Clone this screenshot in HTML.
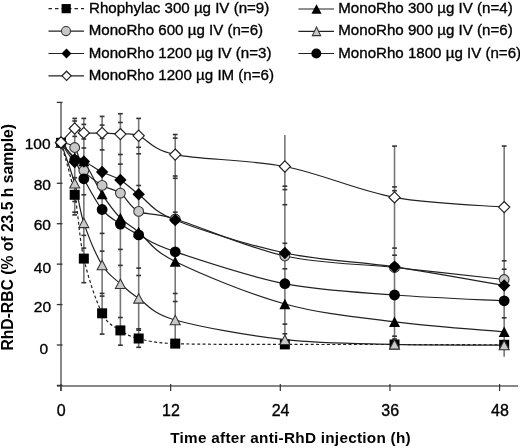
<!DOCTYPE html>
<html><head><meta charset="utf-8"><style>
html,body{margin:0;padding:0;background:#fff;width:520px;height:448px;overflow:hidden}
svg{display:block;will-change:transform;font-family:"Liberation Sans",sans-serif}
</style></head><body>
<svg width="520" height="448" viewBox="0 0 520 448">
<line x1="61" y1="102" x2="61" y2="391" stroke="#888" stroke-width="2"/>
<line x1="57" y1="386" x2="518" y2="386" stroke="#888" stroke-width="2"/>
<line x1="56.8" y1="385.43" x2="62.5" y2="385.43" stroke="#333" stroke-width="1.3"/>
<line x1="56.8" y1="345.00" x2="62.5" y2="345.00" stroke="#333" stroke-width="1.3"/>
<line x1="56.8" y1="304.57" x2="62.5" y2="304.57" stroke="#333" stroke-width="1.3"/>
<line x1="56.8" y1="264.13" x2="62.5" y2="264.13" stroke="#333" stroke-width="1.3"/>
<line x1="56.8" y1="223.70" x2="62.5" y2="223.70" stroke="#333" stroke-width="1.3"/>
<line x1="56.8" y1="183.26" x2="62.5" y2="183.26" stroke="#333" stroke-width="1.3"/>
<line x1="56.8" y1="142.83" x2="62.5" y2="142.83" stroke="#333" stroke-width="1.3"/>
<line x1="56.8" y1="102.40" x2="62.5" y2="102.40" stroke="#333" stroke-width="1.3"/>
<line x1="61.00" y1="384" x2="61.00" y2="391" stroke="#333" stroke-width="1.2"/>
<line x1="170.65" y1="384" x2="170.65" y2="391" stroke="#333" stroke-width="1.2"/>
<line x1="280.30" y1="384" x2="280.30" y2="391" stroke="#333" stroke-width="1.2"/>
<line x1="389.95" y1="384" x2="389.95" y2="391" stroke="#333" stroke-width="1.2"/>
<line x1="499.60" y1="384" x2="499.60" y2="391" stroke="#333" stroke-width="1.2"/>
<text x="50.6" y="148.50" text-anchor="end" font-size="15.5" stroke="#000" stroke-width="0.35">100</text>
<text x="50.9" y="189.60" text-anchor="end" font-size="15.5" stroke="#000" stroke-width="0.35">80</text>
<text x="50.9" y="229.50" text-anchor="end" font-size="15.5" stroke="#000" stroke-width="0.35">60</text>
<text x="51.1" y="272.60" text-anchor="end" font-size="15.5" stroke="#000" stroke-width="0.35">40</text>
<text x="51.1" y="312.30" text-anchor="end" font-size="15.5" stroke="#000" stroke-width="0.35">20</text>
<text x="48.2" y="353.60" text-anchor="end" font-size="15.5" stroke="#000" stroke-width="0.35">0</text>
<text x="61.30" y="415.8" text-anchor="middle" font-size="16" stroke="#000" stroke-width="0.35">0</text>
<text x="170.95" y="415.8" text-anchor="middle" font-size="16" stroke="#000" stroke-width="0.35">12</text>
<text x="280.60" y="415.8" text-anchor="middle" font-size="16" stroke="#000" stroke-width="0.35">24</text>
<text x="390.25" y="415.8" text-anchor="middle" font-size="16" stroke="#000" stroke-width="0.35">36</text>
<text x="499.90" y="415.8" text-anchor="middle" font-size="16" stroke="#000" stroke-width="0.35">48</text>
<text x="290.6" y="443" text-anchor="middle" font-size="15.3" letter-spacing="0.27" font-weight="bold">Time after anti-RhD injection (h)</text>
<text transform="translate(13.4,237.3) rotate(-90)" text-anchor="middle" font-size="15.7" font-weight="bold">RhD-RBC (% of 23.5 h sample)</text>
<line x1="74.71" y1="118.4" x2="74.71" y2="215.0" stroke="#777" stroke-width="1.6"/>
<line x1="72.31" y1="118.4" x2="77.11" y2="118.4" stroke="#333" stroke-width="1.6"/>
<line x1="72.31" y1="121" x2="77.11" y2="121" stroke="#333" stroke-width="1.6"/>
<line x1="72.31" y1="136.4" x2="77.11" y2="136.4" stroke="#333" stroke-width="1.6"/>
<line x1="72.31" y1="177.7" x2="77.11" y2="177.7" stroke="#333" stroke-width="1.6"/>
<line x1="72.31" y1="201.5" x2="77.11" y2="201.5" stroke="#333" stroke-width="1.6"/>
<line x1="72.31" y1="212.2" x2="77.11" y2="212.2" stroke="#333" stroke-width="1.6"/>
<line x1="72.31" y1="214.9" x2="77.11" y2="214.9" stroke="#333" stroke-width="1.6"/>
<line x1="83.84" y1="118.4" x2="83.84" y2="282.7" stroke="#777" stroke-width="1.6"/>
<line x1="81.44" y1="118.4" x2="86.24" y2="118.4" stroke="#333" stroke-width="1.6"/>
<line x1="81.44" y1="124.4" x2="86.24" y2="124.4" stroke="#333" stroke-width="1.6"/>
<line x1="81.44" y1="139" x2="86.24" y2="139" stroke="#333" stroke-width="1.6"/>
<line x1="81.44" y1="148" x2="86.24" y2="148" stroke="#333" stroke-width="1.6"/>
<line x1="81.44" y1="194.8" x2="86.24" y2="194.8" stroke="#333" stroke-width="1.6"/>
<line x1="81.44" y1="235.4" x2="86.24" y2="235.4" stroke="#333" stroke-width="1.6"/>
<line x1="81.44" y1="248.1" x2="86.24" y2="248.1" stroke="#333" stroke-width="1.6"/>
<line x1="81.44" y1="282.7" x2="86.24" y2="282.7" stroke="#333" stroke-width="1.6"/>
<line x1="102.12" y1="116.4" x2="102.12" y2="334.1" stroke="#777" stroke-width="1.6"/>
<line x1="99.72" y1="116.4" x2="104.52" y2="116.4" stroke="#333" stroke-width="1.6"/>
<line x1="99.72" y1="125.1" x2="104.52" y2="125.1" stroke="#333" stroke-width="1.6"/>
<line x1="99.72" y1="138.5" x2="104.52" y2="138.5" stroke="#333" stroke-width="1.6"/>
<line x1="99.72" y1="149.9" x2="104.52" y2="149.9" stroke="#333" stroke-width="1.6"/>
<line x1="99.72" y1="233.4" x2="104.52" y2="233.4" stroke="#333" stroke-width="1.6"/>
<line x1="99.72" y1="251.1" x2="104.52" y2="251.1" stroke="#333" stroke-width="1.6"/>
<line x1="99.72" y1="293.4" x2="104.52" y2="293.4" stroke="#333" stroke-width="1.6"/>
<line x1="99.72" y1="296.1" x2="104.52" y2="296.1" stroke="#333" stroke-width="1.6"/>
<line x1="99.72" y1="334.1" x2="104.52" y2="334.1" stroke="#333" stroke-width="1.6"/>
<line x1="120.39" y1="113.7" x2="120.39" y2="345.2" stroke="#777" stroke-width="1.6"/>
<line x1="117.99" y1="113.7" x2="122.79" y2="113.7" stroke="#333" stroke-width="1.6"/>
<line x1="117.99" y1="122.5" x2="122.79" y2="122.5" stroke="#333" stroke-width="1.6"/>
<line x1="117.99" y1="154.5" x2="122.79" y2="154.5" stroke="#333" stroke-width="1.6"/>
<line x1="117.99" y1="164.1" x2="122.79" y2="164.1" stroke="#333" stroke-width="1.6"/>
<line x1="117.99" y1="249.4" x2="122.79" y2="249.4" stroke="#333" stroke-width="1.6"/>
<line x1="117.99" y1="265.4" x2="122.79" y2="265.4" stroke="#333" stroke-width="1.6"/>
<line x1="117.99" y1="317.5" x2="122.79" y2="317.5" stroke="#333" stroke-width="1.6"/>
<line x1="117.99" y1="345.2" x2="122.79" y2="345.2" stroke="#333" stroke-width="1.6"/>
<line x1="138.67" y1="118.4" x2="138.67" y2="347.3" stroke="#777" stroke-width="1.6"/>
<line x1="136.27" y1="118.4" x2="141.07" y2="118.4" stroke="#333" stroke-width="1.6"/>
<line x1="136.27" y1="147.3" x2="141.07" y2="147.3" stroke="#333" stroke-width="1.6"/>
<line x1="136.27" y1="153.8" x2="141.07" y2="153.8" stroke="#333" stroke-width="1.6"/>
<line x1="136.27" y1="185.5" x2="141.07" y2="185.5" stroke="#333" stroke-width="1.6"/>
<line x1="136.27" y1="268.1" x2="141.07" y2="268.1" stroke="#333" stroke-width="1.6"/>
<line x1="136.27" y1="275.5" x2="141.07" y2="275.5" stroke="#333" stroke-width="1.6"/>
<line x1="136.27" y1="328.8" x2="141.07" y2="328.8" stroke="#333" stroke-width="1.6"/>
<line x1="136.27" y1="330.2" x2="141.07" y2="330.2" stroke="#333" stroke-width="1.6"/>
<line x1="136.27" y1="347.3" x2="141.07" y2="347.3" stroke="#333" stroke-width="1.6"/>
<line x1="175.22" y1="134.5" x2="175.22" y2="345.0" stroke="#777" stroke-width="1.6"/>
<line x1="172.82" y1="134.5" x2="177.62" y2="134.5" stroke="#333" stroke-width="1.6"/>
<line x1="172.82" y1="138.1" x2="177.62" y2="138.1" stroke="#333" stroke-width="1.6"/>
<line x1="172.82" y1="176" x2="177.62" y2="176" stroke="#333" stroke-width="1.6"/>
<line x1="172.82" y1="178.3" x2="177.62" y2="178.3" stroke="#333" stroke-width="1.6"/>
<line x1="172.82" y1="212.2" x2="177.62" y2="212.2" stroke="#333" stroke-width="1.6"/>
<line x1="172.82" y1="293.5" x2="177.62" y2="293.5" stroke="#333" stroke-width="1.6"/>
<line x1="172.82" y1="301.5" x2="177.62" y2="301.5" stroke="#333" stroke-width="1.6"/>
<line x1="284.87" y1="135.1" x2="284.87" y2="340.0" stroke="#777" stroke-width="1.6"/>
<line x1="282.47" y1="186.2" x2="287.27" y2="186.2" stroke="#333" stroke-width="1.6"/>
<line x1="282.47" y1="189.6" x2="287.27" y2="189.6" stroke="#333" stroke-width="1.6"/>
<line x1="282.47" y1="204.7" x2="287.27" y2="204.7" stroke="#333" stroke-width="1.6"/>
<line x1="282.47" y1="243.3" x2="287.27" y2="243.3" stroke="#333" stroke-width="1.6"/>
<line x1="282.47" y1="268.8" x2="287.27" y2="268.8" stroke="#333" stroke-width="1.6"/>
<line x1="282.47" y1="324.1" x2="287.27" y2="324.1" stroke="#333" stroke-width="1.6"/>
<line x1="282.47" y1="333.8" x2="287.27" y2="333.8" stroke="#333" stroke-width="1.6"/>
<line x1="394.52" y1="146.1" x2="394.52" y2="340.0" stroke="#777" stroke-width="1.6"/>
<line x1="392.12" y1="146.1" x2="396.92" y2="146.1" stroke="#333" stroke-width="1.6"/>
<line x1="392.12" y1="186.9" x2="396.92" y2="186.9" stroke="#333" stroke-width="1.6"/>
<line x1="392.12" y1="190.7" x2="396.92" y2="190.7" stroke="#333" stroke-width="1.6"/>
<line x1="392.12" y1="248.1" x2="396.92" y2="248.1" stroke="#333" stroke-width="1.6"/>
<line x1="392.12" y1="255.2" x2="396.92" y2="255.2" stroke="#333" stroke-width="1.6"/>
<line x1="392.12" y1="336.2" x2="396.92" y2="336.2" stroke="#333" stroke-width="1.6"/>
<line x1="392.12" y1="339" x2="396.92" y2="339" stroke="#333" stroke-width="1.6"/>
<line x1="504.17" y1="146.0" x2="504.17" y2="356.8" stroke="#777" stroke-width="1.6"/>
<line x1="501.77" y1="146" x2="506.57" y2="146" stroke="#333" stroke-width="1.6"/>
<line x1="501.77" y1="260.8" x2="506.57" y2="260.8" stroke="#333" stroke-width="1.6"/>
<line x1="501.77" y1="269.2" x2="506.57" y2="269.2" stroke="#333" stroke-width="1.6"/>
<line x1="501.77" y1="317.8" x2="506.57" y2="317.8" stroke="#333" stroke-width="1.6"/>
<path d="M61.00,142.80 C63.28,151.47 70.90,175.50 74.71,194.80 C78.51,214.10 79.28,238.85 83.84,258.60 C88.41,278.35 96.03,301.33 102.12,313.30 C108.21,325.27 114.30,326.20 120.39,330.40 C126.49,334.60 129.53,336.30 138.67,338.50 C147.81,340.70 150.85,342.62 175.22,343.60 C199.59,344.58 248.32,344.25 284.87,344.40 C321.42,344.55 357.97,344.43 394.52,344.50 C431.07,344.57 485.89,344.75 504.17,344.80" fill="none" stroke="#222" stroke-width="1.2" stroke-dasharray="3,2.4"/>
<path d="M61.00,142.80 C63.28,145.25 70.90,154.47 74.71,157.50 C78.51,160.53 79.28,154.90 83.84,161.00 C88.41,167.10 96.03,184.60 102.12,194.10 C108.21,203.60 114.30,211.68 120.39,218.00 C126.49,224.32 129.53,224.75 138.67,232.00 C147.81,239.25 150.85,249.50 175.22,261.50 C199.59,273.50 248.32,293.95 284.87,304.00 C321.42,314.05 357.97,317.17 394.52,321.80 C431.07,326.43 485.89,330.13 504.17,331.80" fill="none" stroke="#222" stroke-width="1.2"/>
<path d="M61.00,142.80 C63.28,143.58 70.90,142.88 74.71,147.50 C78.51,152.12 79.28,164.18 83.84,170.50 C88.41,176.82 96.03,181.63 102.12,185.40 C108.21,189.17 114.30,188.77 120.39,193.10 C126.49,197.43 129.53,207.08 138.67,211.40 C147.81,215.72 150.85,211.57 175.22,219.00 C199.59,226.43 248.32,247.92 284.87,256.00 C321.42,264.08 357.97,263.58 394.52,267.50 C431.07,271.42 485.89,277.50 504.17,279.50" fill="none" stroke="#222" stroke-width="1.2"/>
<path d="M61.00,142.80 C63.28,149.55 70.90,169.95 74.71,183.30 C78.51,196.65 79.28,209.28 83.84,222.90 C88.41,236.52 96.03,254.87 102.12,265.00 C108.21,275.13 114.30,278.13 120.39,283.70 C126.49,289.27 129.53,292.35 138.67,298.40 C147.81,304.45 150.85,313.12 175.22,320.00 C199.59,326.88 248.32,335.63 284.87,339.70 C321.42,343.77 357.97,343.50 394.52,344.40 C431.07,345.30 485.89,344.98 504.17,345.10" fill="none" stroke="#222" stroke-width="1.2"/>
<path d="M61.00,142.80 C63.28,146.00 70.90,158.88 74.71,162.00 C78.51,165.12 79.28,159.83 83.84,161.50 C88.41,163.17 96.03,168.93 102.12,172.00 C108.21,175.07 114.30,176.20 120.39,179.90 C126.49,183.60 129.53,187.52 138.67,194.20 C147.81,200.88 150.85,210.20 175.22,220.00 C199.59,229.80 248.32,245.20 284.87,253.00 C321.42,260.80 357.97,261.38 394.52,266.80 C431.07,272.22 485.89,282.38 504.17,285.50" fill="none" stroke="#222" stroke-width="1.2"/>
<path d="M61.00,142.80 C63.28,145.67 70.90,154.00 74.71,160.00 C78.51,166.00 79.28,170.55 83.84,178.80 C88.41,187.05 96.03,201.95 102.12,209.50 C108.21,217.05 114.30,219.87 120.39,224.10 C126.49,228.33 129.53,230.28 138.67,234.90 C147.81,239.52 150.85,243.67 175.22,251.80 C199.59,259.93 248.32,276.50 284.87,283.70 C321.42,290.90 357.97,292.15 394.52,295.00 C431.07,297.85 485.89,299.83 504.17,300.80" fill="none" stroke="#222" stroke-width="1.2"/>
<path d="M61.00,142.50 C63.28,140.17 70.90,130.10 74.71,128.50 C78.51,126.90 79.28,132.17 83.84,132.90 C88.41,133.63 96.03,132.70 102.12,132.90 C108.21,133.10 114.30,133.62 120.39,134.10 C126.49,134.58 129.53,132.38 138.67,135.80 C147.81,139.22 150.85,149.48 175.22,154.60 C199.59,159.72 248.32,159.37 284.87,166.50 C321.42,173.63 357.97,190.63 394.52,197.40 C431.07,204.17 485.89,205.48 504.17,207.10" fill="none" stroke="#222" stroke-width="1.2"/>
<rect x="56.00" y="137.80" width="10.0" height="10.0" fill="#000"/>
<rect x="69.71" y="189.80" width="10.0" height="10.0" fill="#000"/>
<rect x="78.84" y="253.60" width="10.0" height="10.0" fill="#000"/>
<rect x="97.12" y="308.30" width="10.0" height="10.0" fill="#000"/>
<rect x="115.39" y="325.40" width="10.0" height="10.0" fill="#000"/>
<rect x="133.67" y="333.50" width="10.0" height="10.0" fill="#000"/>
<rect x="170.22" y="338.60" width="10.0" height="10.0" fill="#000"/>
<rect x="279.87" y="339.40" width="10.0" height="10.0" fill="#000"/>
<rect x="389.52" y="339.50" width="10.0" height="10.0" fill="#000"/>
<rect x="499.17" y="339.80" width="10.0" height="10.0" fill="#000"/>
<polygon points="61.00,137.60 66.50,148.00 55.50,148.00" fill="#000"/>
<polygon points="74.71,152.30 80.21,162.70 69.21,162.70" fill="#000"/>
<polygon points="83.84,155.80 89.34,166.20 78.34,166.20" fill="#000"/>
<polygon points="102.12,188.90 107.62,199.30 96.62,199.30" fill="#000"/>
<polygon points="120.39,212.80 125.89,223.20 114.89,223.20" fill="#000"/>
<polygon points="138.67,226.80 144.17,237.20 133.17,237.20" fill="#000"/>
<polygon points="175.22,256.30 180.72,266.70 169.72,266.70" fill="#000"/>
<polygon points="284.87,298.80 290.37,309.20 279.37,309.20" fill="#000"/>
<polygon points="394.52,316.60 400.02,327.00 389.02,327.00" fill="#000"/>
<polygon points="504.17,326.60 509.67,337.00 498.67,337.00" fill="#000"/>
<circle cx="61.00" cy="142.80" r="4.90" fill="#c8c8c8" stroke="#333" stroke-width="1.05"/>
<circle cx="74.71" cy="147.50" r="4.90" fill="#c8c8c8" stroke="#333" stroke-width="1.05"/>
<circle cx="83.84" cy="170.50" r="4.90" fill="#c8c8c8" stroke="#333" stroke-width="1.05"/>
<circle cx="102.12" cy="185.40" r="4.90" fill="#c8c8c8" stroke="#333" stroke-width="1.05"/>
<circle cx="120.39" cy="193.10" r="4.90" fill="#c8c8c8" stroke="#333" stroke-width="1.05"/>
<circle cx="138.67" cy="211.40" r="4.90" fill="#c8c8c8" stroke="#333" stroke-width="1.05"/>
<circle cx="175.22" cy="219.00" r="4.90" fill="#c8c8c8" stroke="#333" stroke-width="1.05"/>
<circle cx="284.87" cy="256.00" r="4.90" fill="#c8c8c8" stroke="#333" stroke-width="1.05"/>
<circle cx="394.52" cy="267.50" r="4.90" fill="#c8c8c8" stroke="#333" stroke-width="1.05"/>
<circle cx="504.17" cy="279.50" r="4.90" fill="#c8c8c8" stroke="#333" stroke-width="1.05"/>
<polygon points="61.00,138.10 66.00,147.50 56.00,147.50" fill="#c8c8c8" stroke="#333" stroke-width="1.05"/>
<polygon points="74.71,178.60 79.71,188.00 69.71,188.00" fill="#c8c8c8" stroke="#333" stroke-width="1.05"/>
<polygon points="83.84,218.20 88.84,227.60 78.84,227.60" fill="#c8c8c8" stroke="#333" stroke-width="1.05"/>
<polygon points="102.12,260.30 107.12,269.70 97.12,269.70" fill="#c8c8c8" stroke="#333" stroke-width="1.05"/>
<polygon points="120.39,279.00 125.39,288.40 115.39,288.40" fill="#c8c8c8" stroke="#333" stroke-width="1.05"/>
<polygon points="138.67,293.70 143.67,303.10 133.67,303.10" fill="#c8c8c8" stroke="#333" stroke-width="1.05"/>
<polygon points="175.22,315.30 180.22,324.70 170.22,324.70" fill="#c8c8c8" stroke="#333" stroke-width="1.05"/>
<polygon points="284.87,335.00 289.87,344.40 279.87,344.40" fill="#c8c8c8" stroke="#333" stroke-width="1.05"/>
<polygon points="394.52,339.70 399.52,349.10 389.52,349.10" fill="#c8c8c8" stroke="#333" stroke-width="1.05"/>
<polygon points="504.17,340.40 509.17,349.80 499.17,349.80" fill="#c8c8c8" stroke="#333" stroke-width="1.05"/>
<polygon points="61.00,136.60 67.20,142.80 61.00,149.00 54.80,142.80" fill="#000"/>
<polygon points="74.71,155.80 80.91,162.00 74.71,168.20 68.51,162.00" fill="#000"/>
<polygon points="83.84,155.30 90.04,161.50 83.84,167.70 77.64,161.50" fill="#000"/>
<polygon points="102.12,165.80 108.32,172.00 102.12,178.20 95.92,172.00" fill="#000"/>
<polygon points="120.39,173.70 126.59,179.90 120.39,186.10 114.19,179.90" fill="#000"/>
<polygon points="138.67,188.00 144.87,194.20 138.67,200.40 132.47,194.20" fill="#000"/>
<polygon points="175.22,213.80 181.42,220.00 175.22,226.20 169.02,220.00" fill="#000"/>
<polygon points="284.87,246.80 291.07,253.00 284.87,259.20 278.67,253.00" fill="#000"/>
<polygon points="394.52,260.60 400.72,266.80 394.52,273.00 388.32,266.80" fill="#000"/>
<polygon points="504.17,279.30 510.37,285.50 504.17,291.70 497.97,285.50" fill="#000"/>
<circle cx="61.00" cy="142.80" r="5.40" fill="#000"/>
<circle cx="74.71" cy="160.00" r="5.40" fill="#000"/>
<circle cx="83.84" cy="178.80" r="5.40" fill="#000"/>
<circle cx="102.12" cy="209.50" r="5.40" fill="#000"/>
<circle cx="120.39" cy="224.10" r="5.40" fill="#000"/>
<circle cx="138.67" cy="234.90" r="5.40" fill="#000"/>
<circle cx="175.22" cy="251.80" r="5.40" fill="#000"/>
<circle cx="284.87" cy="283.70" r="5.40" fill="#000"/>
<circle cx="394.52" cy="295.00" r="5.40" fill="#000"/>
<circle cx="504.17" cy="300.80" r="5.40" fill="#000"/>
<polygon points="61.00,136.90 66.60,142.50 61.00,148.10 55.40,142.50" fill="#fff" stroke="#222" stroke-width="1.2"/>
<polygon points="74.71,122.90 80.31,128.50 74.71,134.10 69.11,128.50" fill="#fff" stroke="#222" stroke-width="1.2"/>
<polygon points="83.84,127.30 89.44,132.90 83.84,138.50 78.24,132.90" fill="#fff" stroke="#222" stroke-width="1.2"/>
<polygon points="102.12,127.30 107.72,132.90 102.12,138.50 96.52,132.90" fill="#fff" stroke="#222" stroke-width="1.2"/>
<polygon points="120.39,128.50 125.99,134.10 120.39,139.70 114.79,134.10" fill="#fff" stroke="#222" stroke-width="1.2"/>
<polygon points="138.67,130.20 144.27,135.80 138.67,141.40 133.07,135.80" fill="#fff" stroke="#222" stroke-width="1.2"/>
<polygon points="175.22,149.00 180.82,154.60 175.22,160.20 169.62,154.60" fill="#fff" stroke="#222" stroke-width="1.2"/>
<polygon points="284.87,160.90 290.47,166.50 284.87,172.10 279.27,166.50" fill="#fff" stroke="#222" stroke-width="1.2"/>
<polygon points="394.52,191.80 400.12,197.40 394.52,203.00 388.92,197.40" fill="#fff" stroke="#222" stroke-width="1.2"/>
<polygon points="504.17,201.50 509.77,207.10 504.17,212.70 498.57,207.10" fill="#fff" stroke="#222" stroke-width="1.2"/>
<line x1="48.5" y1="8.65" x2="84" y2="8.65" stroke="#222" stroke-width="1.2" stroke-dasharray="3.5,3"/>
<rect x="61.60" y="4.05" width="9.200000000000001" height="9.200000000000001" fill="#000"/>
<text x="89.0" y="12.9" font-size="15.1" stroke="#000" stroke-width="0.35">Rhophylac 300 µg IV (n=9)</text>
<line x1="48.5" y1="31.1" x2="84" y2="31.1" stroke="#222" stroke-width="1.2"/>
<circle cx="66.00" cy="31.10" r="4.51" fill="#c8c8c8" stroke="#333" stroke-width="1.05"/>
<text x="88.7" y="35.2" font-size="15.1" stroke="#000" stroke-width="0.35">MonoRho 600 µg IV (n=6)</text>
<line x1="48.5" y1="53.5" x2="84" y2="53.5" stroke="#222" stroke-width="1.2"/>
<polygon points="66.50,48.54 71.46,53.50 66.50,58.46 61.54,53.50" fill="#000"/>
<text x="88.7" y="57.8" font-size="15.1" stroke="#000" stroke-width="0.35">MonoRho 1200 µg IV (n=3)</text>
<line x1="48.5" y1="75.8" x2="84" y2="75.8" stroke="#222" stroke-width="1.2"/>
<polygon points="66.60,71.21 71.19,75.80 66.60,80.39 62.01,75.80" fill="#fff" stroke="#222" stroke-width="1.2"/>
<text x="88.7" y="80.2" font-size="15.1" stroke="#000" stroke-width="0.35">MonoRho 1200 µg IM (n=6)</text>
<line x1="298.4" y1="9.0" x2="334" y2="9.0" stroke="#222" stroke-width="1.2"/>
<polygon points="316.50,4.22 321.56,13.78 311.44,13.78" fill="#000"/>
<text x="338.3" y="12.8" font-size="15.1" stroke="#000" stroke-width="0.35">MonoRho 300 µg IV (n=4)</text>
<line x1="298.4" y1="31.3" x2="334" y2="31.3" stroke="#222" stroke-width="1.2"/>
<polygon points="316.50,26.98 320.64,35.62 312.36,35.62" fill="#c8c8c8" stroke="#333" stroke-width="1.05"/>
<text x="338.3" y="35.2" font-size="15.1" stroke="#000" stroke-width="0.35">MonoRho 900 µg IV (n=6)</text>
<line x1="298.4" y1="53.5" x2="334" y2="53.5" stroke="#222" stroke-width="1.2"/>
<circle cx="316.30" cy="53.50" r="4.97" fill="#000"/>
<text x="338.3" y="57.8" font-size="15.1" stroke="#000" stroke-width="0.35">MonoRho 1800 µg IV (n=6)</text>
</svg>
</body></html>
